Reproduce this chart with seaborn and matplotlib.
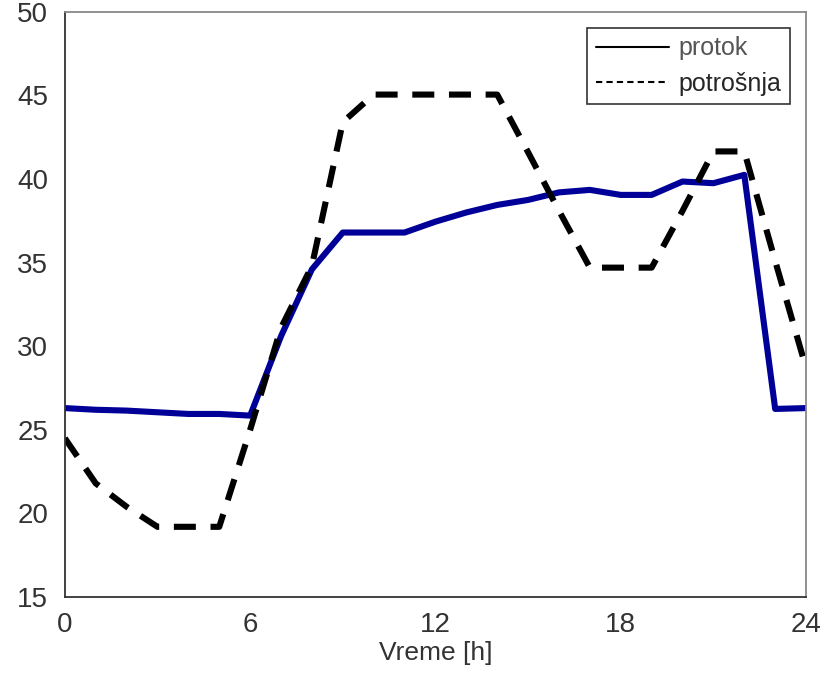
import pandas as pd
import matplotlib
matplotlib.use('Agg')
import matplotlib.pyplot as plt
from matplotlib.lines import Line2D
import seaborn as sns

hours = list(range(25))
protok = [26.3, 26.2, 26.15, 26.05, 25.95, 25.95, 25.85, 30.6, 34.6, 36.8, 36.8, 36.8,
          37.45, 38.0, 38.45, 38.75, 39.2, 39.35, 39.05, 39.05, 39.85, 39.75, 40.25, 26.25, 26.3]
potrosnja = [24.5, 21.8, 20.4, 19.2, 19.2, 19.2, 25.0, 31.1, 34.8, 43.4, 45.05, 45.05,
             45.05, 45.05, 45.05, 41.6, 38.1, 34.7, 34.7, 34.7, 38.1, 41.65, 41.65, 35.1, 28.7]

df = pd.DataFrame({
    'sat': hours * 2,
    'vrednost': protok + potrosnja,
    'serija': ['protok'] * 25 + ['potrošnja'] * 25,
})

sns.set_style('white')
plt.rcParams['font.family'] = ['Liberation Sans', 'DejaVu Sans']

fig = plt.figure(figsize=(8.31, 6.75), dpi=100)
ax = fig.add_axes([0.078, 0.1155, 0.892, 0.867])

sns.lineplot(data=df[df['serija'] == 'protok'], x='sat', y='vrednost',
             color='#000099', linewidth=4.4, ax=ax, legend=False)
sns.lineplot(data=df[df['serija'] == 'potrošnja'], x='sat', y='vrednost',
             color='black', linewidth=4.4, ax=ax, legend=False,
             linestyle=(0, (3.6, 2.4)))

ax.set_xlim(0, 24)
ax.set_ylim(15, 50)
ax.set_xticks([0, 6, 12, 18, 24])
ax.set_yticks([15, 20, 25, 30, 35, 40, 45, 50])
ax.tick_params(axis='both', direction='in', length=5, width=1, colors='#333333',
               labelsize=20, labelcolor='#333333')
ax.tick_params(axis='x', pad=11)
ax.tick_params(axis='y', pad=12)

for side in ['left', 'bottom']:
    ax.spines[side].set_color('#333333')
    ax.spines[side].set_linewidth(1.3)
for side in ['top', 'right']:
    ax.spines[side].set_color('#888888')
    ax.spines[side].set_linewidth(1.3)

ax.set_xlabel('Vreme [h]', fontsize=19, color='#333333', labelpad=2)
ax.set_ylabel('')

handles = [Line2D([], [], color='black', linewidth=1.5),
           Line2D([], [], color='black', linewidth=1.5, linestyle=(0, (3, 2)))]
leg = ax.legend(handles, ['protok', 'potrošnja'], loc='upper right',
                bbox_to_anchor=(0.9785, 0.973), fontsize=18, frameon=True,
                fancybox=False, edgecolor='black', handlelength=2.9,
                borderpad=0.35, labelspacing=0.45, handletextpad=0.4,
                borderaxespad=0)
leg.get_frame().set_linewidth(1.2)
leg.get_texts()[0].set_color('#555555')

fig.savefig('out.png', dpi=100)
